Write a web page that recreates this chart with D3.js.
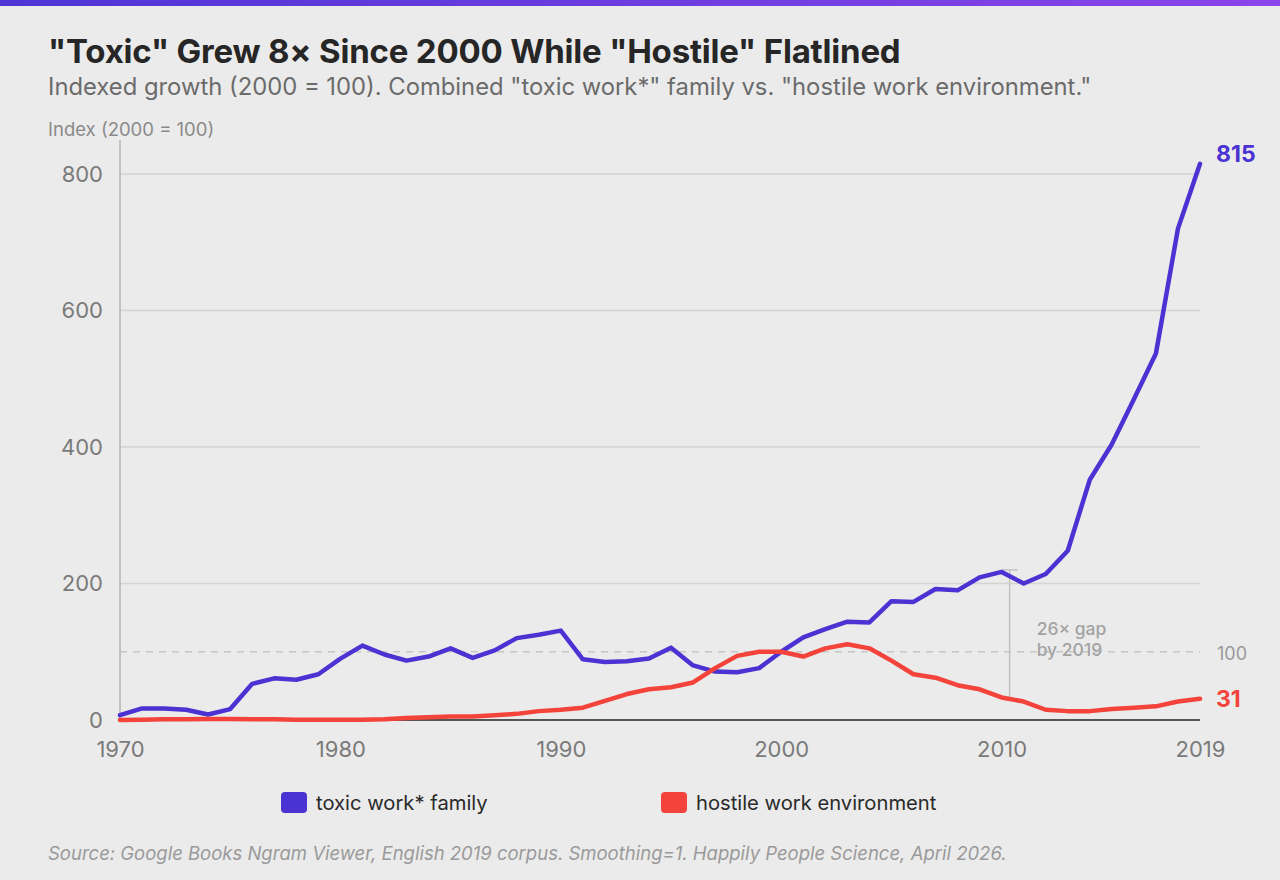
<!DOCTYPE html>
<html>
<head>
<meta charset="utf-8">
<script src="https://cdn.jsdelivr.net/npm/d3@7"></script>
<style>
  html, body { margin: 0; padding: 0; background: #ebebeb; }
  svg { display: block; font-family: Inter, "Noto Sans", sans-serif; }
</style>
</head>
<body>
<svg id="chart" width="1280" height="880"></svg>
<script>
const years = d3.range(1970, 2020);
const toxic = [7,17,17,15,8,16,53,61,59,67,90,109,96,87,93,105,91,102,120,125,
  131,89,85,86,90,106,80,71,70,76,100,121,133,144,143,174,173,192,190,209,
  217,200,214,248,352,404,470,537,720,815];
const hostile = [0,0.5,1,1,1.5,1.5,1,1,0.5,0.5,0.5,0.5,1,3,4,5,5,7,9,13,
  15,18,28,38,45,48,55,76,94,100,100,93,105,111,105,87,67,62,51,45,
  33,27,15,13,13,16,18,20,27,31];
const seriesNames = ["toxic work* family", "hostile work environment"];
const seriesColors = ["#4b32d2", "#f4433a"];
const yTicks = [0, 200, 400, 600, 800];
const xTicks = [1970, 1980, 1990, 2000, 2010, 2019];
const refValue = 100;
const gapYear = 2010;
const gapText = ["26× gap", "by 2019"];
const title = "\"Toxic\" Grew 8× Since 2000 While \"Hostile\" Flatlined";
const subtitle = "Indexed growth (2000 = 100). Combined \"toxic work*\" family vs. \"hostile work environment.\"";
const yLabel = "Index (2000 = 100)";
const source = "Source: Google Books Ngram Viewer, English 2019 corpus. Smoothing=1. Happily People Science, April 2026.";

const svg = d3.select("#chart");
const W = 1280, H = 880;

// top gradient bar
const defs = svg.append("defs");
const grad = defs.append("linearGradient").attr("id", "topbar");
grad.append("stop").attr("offset", "0%").attr("stop-color", "#4f35d5");
grad.append("stop").attr("offset", "100%").attr("stop-color", "#8a44ea");
svg.append("rect").attr("x", 0).attr("y", 0).attr("width", W).attr("height", 6).attr("fill", "url(#topbar)");

svg.append("text").attr("x", 48).attr("y", 63).attr("font-size", 33).attr("font-weight", 700)
  .attr("fill", "#262626").attr("letter-spacing", -0.2).text(title);
svg.append("text").attr("x", 48).attr("y", 95).attr("font-size", 23.8).attr("fill", "#6b6b6b").text(subtitle);
svg.append("text").attr("x", 48).attr("y", 136).attr("font-size", 18.5).attr("fill", "#8a8a8a").text(yLabel);

const x = d3.scaleLinear().domain([1970, 2019]).range([120, 1200]);
const y = d3.scaleLinear().domain([0, 800]).range([720, 174]);

const g = svg.append("g");

// grid
g.selectAll(".grid").data(yTicks.filter(d => d > 0)).join("line")
  .attr("x1", x(1970)).attr("x2", x(2019)).attr("y1", d => y(d)).attr("y2", d => y(d))
  .attr("stroke", "#d3d3d3").attr("stroke-width", 1.5);

// reference dashed line
g.append("line").attr("x1", x(1970)).attr("x2", x(2019)).attr("y1", y(refValue)).attr("y2", y(refValue))
  .attr("stroke", "#c6c6c6").attr("stroke-width", 1.5).attr("stroke-dasharray", "7,6");
g.append("text").attr("x", x(2019) + 17).attr("y", y(refValue) + 2).attr("dy", "0.35em")
  .attr("font-size", 18).attr("fill", "#9a9a9a").text(refValue);

// y axis
const yAxis = d3.axisLeft(y).tickValues(yTicks).tickSize(0).tickPadding(17);
const ya = g.append("g").attr("transform", `translate(${x(1970)},0)`).call(yAxis);
ya.select(".domain").remove();
ya.selectAll("text").attr("font-size", 22).attr("fill", "#7a7a7a").attr("font-family", "Inter, sans-serif");
g.append("line").attr("x1", x(1970)).attr("x2", x(1970)).attr("y1", 140).attr("y2", y(0))
  .attr("stroke", "#b5b5b5").attr("stroke-width", 1.5);

// x axis
const xAxis = d3.axisBottom(x).tickValues(xTicks).tickFormat(d3.format("d")).tickSize(0).tickPadding(21);
const xa = g.append("g").attr("transform", `translate(0,${y(0)})`).call(xAxis);
xa.select(".domain").remove();
xa.selectAll("text").attr("font-size", 22).attr("fill", "#7a7a7a").attr("font-family", "Inter, sans-serif");

// baseline
g.append("line").attr("x1", x(1970)).attr("x2", x(2019)).attr("y1", y(0)).attr("y2", y(0))
  .attr("stroke", "#222").attr("stroke-width", 1.5);

// gap annotation
const gi = years.indexOf(gapYear);
const gx = x(gapYear) + 8;
g.append("line").attr("x1", gx).attr("x2", gx).attr("y1", y(hostile[gi])).attr("y2", y(toxic[gi] + 3))
  .attr("stroke", "#c2c2c2").attr("stroke-width", 1.5);
g.append("line").attr("x1", gx - 8).attr("x2", gx + 8).attr("y1", y(toxic[gi] + 3)).attr("y2", y(toxic[gi] + 3))
  .attr("stroke", "#c2c2c2").attr("stroke-width", 1.5);
g.append("text").attr("x", gx + 27).attr("font-size", 17.5).attr("font-weight", 500).attr("fill", "#a3a3a3")
  .selectAll("tspan").data(gapText).join("tspan")
  .attr("x", gx + 27).attr("y", (d, i) => 635 + i * 21).text(d => d);

// lines
const line = d3.line().x((d, i) => x(years[i])).y(d => y(d));
const allSeries = [toxic, hostile];
g.selectAll(".series").data(allSeries).join("path")
  .attr("d", d => line(d)).attr("fill", "none")
  .attr("stroke", (d, i) => seriesColors[i]).attr("stroke-width", 4.5)
  .attr("stroke-linejoin", "round").attr("stroke-linecap", "round");

// end labels
g.selectAll(".endlabel").data(allSeries).join("text")
  .attr("x", x(2019) + 16).attr("y", d => y(d[d.length - 1]) - (d === toxic ? 10 : 0)).attr("dy", "0.35em")
  .attr("font-size", 23).attr("font-weight", 700).attr("fill", (d, i) => seriesColors[i])
  .text(d => d[d.length - 1]);

// legend
const legX = [281, 661];
const leg = svg.append("g");
seriesNames.forEach((name, i) => {
  leg.append("rect").attr("x", legX[i]).attr("y", 792).attr("width", 26).attr("height", 21).attr("rx", 4)
    .attr("fill", seriesColors[i]);
  leg.append("text").attr("x", legX[i] + 35).attr("y", 802.5).attr("dy", "0.35em")
    .attr("font-size", 20.2).attr("fill", "#2a2a2a").text(name);
});

svg.append("text").attr("x", 48).attr("y", 860).attr("font-size", 18.5).attr("font-style", "italic")
  .attr("fill", "#9a9a9a").text(source);
</script>
</body>
</html>
